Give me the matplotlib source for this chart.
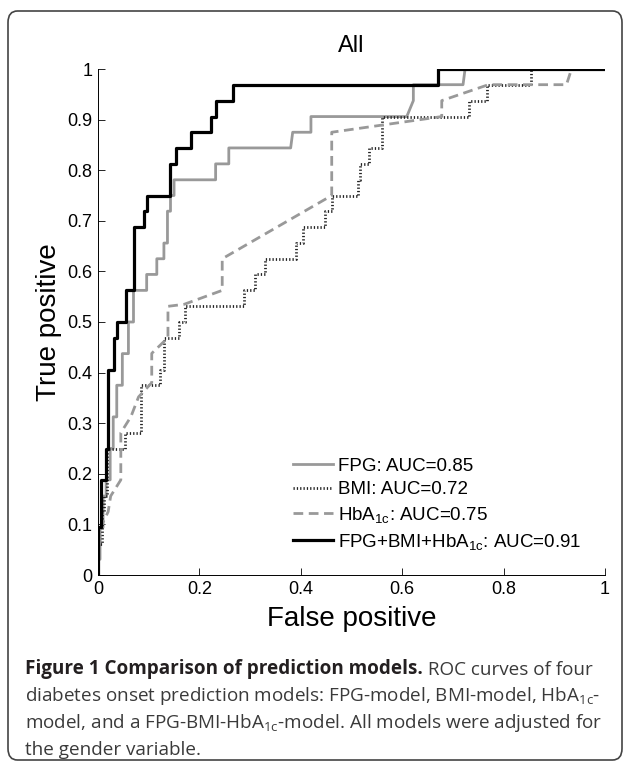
import matplotlib
matplotlib.use("Agg")
import matplotlib.pyplot as plt
from matplotlib.patches import FancyBboxPatch

# ROC curve vertices (false positive rate, true positive rate)
fpg_fpr = [0, 0, 0.004, 0.004, 0.010, 0.010, 0.016, 0.016, 0.024, 0.024, 0.030, 0.030,
           0.037, 0.037, 0.048, 0.048, 0.060, 0.060, 0.070, 0.070, 0.096, 0.096, 0.116, 0.116,
           0.130, 0.130, 0.137, 0.137, 0.143, 0.143, 0.150, 0.150, 0.232, 0.232, 0.258, 0.258,
           0.380, 0.384, 0.420, 0.420, 0.609, 0.622, 0.622, 0.720, 0.724, 1.0]
fpg_tpr = [0, 0.031, 0.031, 0.094, 0.094, 0.156, 0.156, 0.188, 0.188, 0.25, 0.25, 0.3125,
           0.3125, 0.375, 0.375, 0.4375, 0.4375, 0.5, 0.5, 0.5625, 0.5625, 0.594, 0.594, 0.625,
           0.625, 0.656, 0.656, 0.719, 0.719, 0.75, 0.75, 0.781, 0.781, 0.8125, 0.8125, 0.844,
           0.844, 0.875, 0.875, 0.906, 0.906, 0.9375, 0.969, 0.969, 1.0, 1.0]

bmi_fpr = [0, 0, 0.008, 0.008, 0.012, 0.012, 0.017, 0.017, 0.053, 0.053, 0.085, 0.085,
           0.122, 0.122, 0.130, 0.130, 0.160, 0.160, 0.172, 0.172, 0.288, 0.288, 0.310, 0.310,
           0.330, 0.330, 0.390, 0.390, 0.405, 0.405, 0.448, 0.448, 0.461, 0.461, 0.512, 0.512,
           0.517, 0.517, 0.535, 0.535, 0.561, 0.561, 0.732, 0.732, 0.768, 0.768, 0.854, 0.854, 1.0]
bmi_tpr = [0, 0.062, 0.062, 0.125, 0.125, 0.156, 0.156, 0.25, 0.25, 0.281, 0.281, 0.375,
           0.375, 0.406, 0.406, 0.469, 0.469, 0.5, 0.5, 0.531, 0.531, 0.5625, 0.5625, 0.594,
           0.594, 0.625, 0.625, 0.656, 0.656, 0.688, 0.688, 0.719, 0.719, 0.75, 0.75, 0.781,
           0.781, 0.8125, 0.8125, 0.844, 0.844, 0.906, 0.906, 0.9375, 0.9375, 0.969, 0.969, 1.0, 1.0]

hba_fpr = [0, 0.005, 0.020, 0.025, 0.045, 0.045, 0.065, 0.080, 0.106, 0.106, 0.138, 0.138,
           0.170, 0.245, 0.245, 0.461, 0.461, 0.678, 0.678, 0.770, 0.924, 0.934, 1.0]
hba_tpr = [0, 0.094, 0.125, 0.156, 0.188, 0.281, 0.313, 0.352, 0.38, 0.438, 0.469, 0.531,
           0.535, 0.5625, 0.625, 0.75, 0.875, 0.906, 0.9375, 0.969, 0.969, 1.0, 1.0]

all_fpr = [0, 0, 0.005, 0.005, 0.015, 0.015, 0.020, 0.020, 0.032, 0.032, 0.038, 0.038,
           0.055, 0.055, 0.071, 0.071, 0.091, 0.091, 0.097, 0.097, 0.142, 0.142, 0.154, 0.154,
           0.183, 0.183, 0.222, 0.222, 0.233, 0.233, 0.267, 0.267, 0.670, 0.670, 1.0]
all_tpr = [0, 0.094, 0.094, 0.188, 0.188, 0.25, 0.25, 0.406, 0.406, 0.469, 0.469, 0.5,
           0.5, 0.5625, 0.5625, 0.688, 0.688, 0.719, 0.719, 0.75, 0.75, 0.8125, 0.8125, 0.844,
           0.844, 0.875, 0.875, 0.906, 0.906, 0.9375, 0.9375, 0.969, 0.969, 1.0, 1.0]

labels = ["FPG: AUC=0.85", "BMI: AUC=0.72",
          r"HbA$\mathregular{_{1c}}$: AUC=0.75",
          r"FPG+BMI+HbA$\mathregular{_{1c}}$: AUC=0.91"]

caption_bold = "Figure 1 Comparison of prediction models."
caption_lines = [
    " ROC curves of four",
    r"diabetes onset prediction models: FPG-model, BMI-model, HbA$\mathregular{_{1c}}$-",
    r"model, and a FPG-BMI-HbA$\mathregular{_{1c}}$-model. All models were adjusted for",
    "the gender variable.",
]

plt.rcParams["font.family"] = ["Liberation Sans", "DejaVu Sans"]

fig = plt.figure(figsize=(6.29, 7.66), dpi=100)
ax = fig.add_axes([98 / 629, 1 - 575 / 766, 507 / 629, 506 / 766])

gray = "#999999"
ax.plot(fpg_fpr, fpg_tpr, color=gray, lw=2.0, label=labels[0])
ax.plot(bmi_fpr, bmi_tpr, color="#222222", lw=2.0, linestyle=(0, (0.45, 0.75)), label=labels[1])
ax.plot(hba_fpr, hba_tpr, color=gray, lw=2.0, linestyle=(0, (3.5, 2.0)), label=labels[2])
ax.plot(all_fpr, all_tpr, color="black", lw=2.3, label=labels[3])

ax.set_xlim(0, 1)
ax.set_ylim(0, 1)
ax.set_xticks([0, 0.2, 0.4, 0.6, 0.8, 1])
ax.set_xticklabels(["0", "0.2", "0.4", "0.6", "0.8", "1"])
ax.set_yticks([i / 10 for i in range(11)])
ax.set_yticklabels(["0"] + [f"0.{i}" for i in range(1, 10)] + ["1"])
ax.tick_params(direction="in", length=5, width=0.6, labelsize=13, pad=4)
for s in ["top", "right"]:
    ax.spines[s].set_visible(False)
for s in ["left", "bottom"]:
    ax.spines[s].set_linewidth(0.7)

ax.set_title("All", fontsize=17, pad=12)
ax.set_xlabel("False positive", fontsize=20, labelpad=6)
ax.set_ylabel("True positive", fontsize=20, labelpad=4)

ax.legend(loc="upper left", bbox_to_anchor=(0.385, 0.232), frameon=False,
          fontsize=13.5, handlelength=2.1, handletextpad=0.3, labelspacing=0.35,
          borderpad=0, borderaxespad=0)

# caption
cap_kw = dict(fontfamily=["Open Sans", "DejaVu Sans"], fontsize=13.6, color="#3a3a3a")
y0 = 1 - 674 / 766
t = fig.text(25 / 629, y0, caption_bold, fontweight="bold", va="baseline",
             fontfamily=["Open Sans", "DejaVu Sans"], fontsize=13.6, color="#231f20")
ax.annotate(caption_lines[0], xy=(1, 0), xycoords=t, va="bottom", ha="left", **cap_kw)
for i, line in enumerate(caption_lines[1:], start=1):
    fig.text(25 / 629, y0 - i * 27 / 766, line, va="baseline", **cap_kw)

frame = FancyBboxPatch((8 / 629, 6 / 766), 614 / 629, 749 / 766,
                       boxstyle="round,pad=0,rounding_size=0.015",
                       transform=fig.transFigure, fill=False, ec="#444444", lw=1.2)
fig.patches.append(frame)

fig.savefig("out.png", dpi=100)
